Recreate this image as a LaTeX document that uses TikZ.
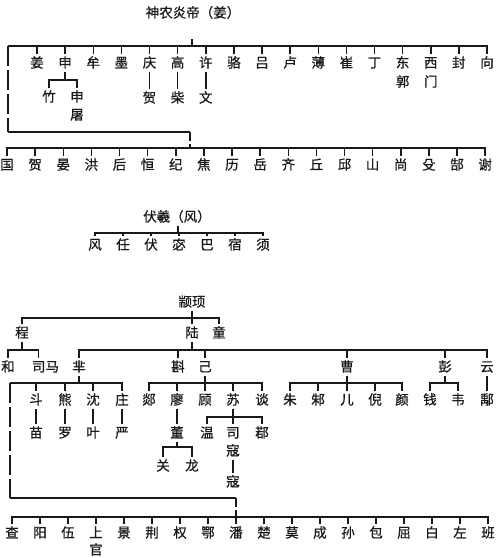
\documentclass[tikz,border=0pt]{standalone}
\usepackage{fontspec}
\newfontfamily\cjk[FakeBold=0.6]{Noto Sans CJK SC}
\begin{document}
\begin{tikzpicture}[x=1pt,y=-1pt,
  n/.style={font=\cjk\fontsize{13.5}{15}\selectfont, text=black!90, inner xsep=0.8pt, inner ysep=2.2pt, text height=10.8pt, text depth=1.6pt},
  ln/.style={line width=1.5pt, draw=black!90},
  dl/.style={ln, dash pattern=on 20pt off 4pt},
  ds/.style={ln, dash pattern=on 9pt off 3pt}]
\useasboundingbox[fill=white] (0,0) rectangle (500,558);

% ---------- Section 1: Shennong ----------
\node[n] (sn) at (193,13) {神农炎帝（姜）};
\coordinate (snb) at (192,39);
\coordinate (d1) at (8,46);
\foreach \t [count=\i] in {姜,申,牟,墨,庆,高,许,骆,吕,卢,薄,崔,丁,东,西,封,向}
  \node[n] (j\i) at ({37+28.125*(\i-1)},63) {\t};
\foreach \i in {1,...,16} \draw[ln] (j\i.north) -- (j\i.north |- d1);
\draw[ln] (d1) -- (j17.north |- d1) -- (j17.north);
\draw[ln] (snb) -- (snb |- d1);

\node[n] (zhu) at (49,97) {竹};
\node[n] (st1) at (77,97) {申};
\node[n] (st2) at (77,115) {屠};
\coordinate (shb) at (j2.south |- 0,80);
\draw[ln] (j2.south) -- (shb);
\draw[ln] (zhu.north) |- (st1.north |- shb) -- (st1.north);

\node[n] (he) at (j5 |- 0,98) {贺};
\node[n] (chai) at (j6 |- 0,98) {柴};
\node[n] (wenA) at (j7 |- 0,98) {文};
\draw[ln] (j5.south) -- (he.north);
\draw[ln] (j6.south) -- (chai.north);
\draw[ln] (j7.south) -- (wenA.north);
\node[n] (guo) at (j14 |- 0,82) {郭};
\node[n] (men) at (j15 |- 0,82) {门};

\coordinate (d2) at (8,132);
\coordinate (d3) at (190,132);
\coordinate (d4) at (190,148);
\draw[dl] (d1) -- (d2);
\draw[ln] (d2) -- (d3);
\draw[ds] (d3) -- (d4);

\foreach \t [count=\i] in {国,贺,晏,洪,后,恒,纪,焦,历,岳,齐,丘,邱,山,尚,殳,郜,谢}
  \node[n] (k\i) at ({7+28.125*(\i-1)},165) {\t};
\draw[ln] (k1.north) |- (k18.north |- d4) -- (k18.north);
\foreach \i in {2,...,17} \draw[ln] (k\i.north) -- (k\i.north |- d4);

% ---------- Section 2: Fuxi ----------
\node[n] (fx) at (177,217) {伏羲（风）};
\coordinate (fxb) at (178,233);
\foreach \t [count=\i] in {风,任,伏,宓,巴,宿,须}
  \node[n] (f\i) at ({95+28*(\i-1)},245) {\t};
\draw[ln] (f1.north) |- (f7.north |- fxb) -- (f7.north);
\foreach \i in {2,...,6} \draw[ln] (f\i.north) -- (f\i.north |- fxb);
\draw[ln] (fx.south -| fxb) -- (fxb);

% ---------- Section 3: Zhuanxu ----------
\node[n] (zx) at (192,302) {颛顼};
\node[n] (cheng) at (22,333) {程};
\node[n] (lu) at (192,333) {陆};
\node[n] (tong) at (219,333) {童};
\coordinate (zb) at (0,318);
\draw[ln] (zx.south) -- (lu.north);
\draw[ln] (cheng.north) |- (tong.north |- zb) -- (tong.north);

\coordinate (cb) at (0,350);
\node[n] (he2) at (8,367) {和};
\node[n] (sima) at (45.5,367) {司马};
\draw[ln] (cheng.south) -- (cheng.south |- cb);
\draw[ln] (he2.north) |- ([xshift=-7pt]sima.north |- cb) -- ([xshift=-7pt]sima.north);

\node[n] (mi) at (79,367) {芈};
\node[n] (zhen) at (178,367) {斟};
\node[n] (ji) at (205,367) {己};
\node[n] (cao) at (347,367) {曹};
\node[n] (peng) at (445,367) {彭};
\node[n] (yun) at (487,367) {云};
\draw[ln] (lu.south) -- (lu.south |- cb);
\draw[ln] (mi.north) |- (yun.north |- cb) -- (yun.north);
\foreach \m in {zhen,ji,cao,peng} \draw[ln] (\m.north) -- (\m.north |- cb);

% Mi branch
\coordinate (mb) at (0,383);
\coordinate (e1) at (10,383);
\node[n] (dou) at (36,400) {斗};
\node[n] (xiong) at (65,400) {熊};
\node[n] (shen) at (93,400) {沈};
\node[n] (zhuang) at (122,400) {庄};
\draw[ln] (mi.south) -- (mi.south |- mb);
\draw[ln] (e1) -- (zhuang.north |- mb) -- (zhuang.north);
\foreach \m in {dou,xiong,shen} \draw[ln] (\m.north) -- (\m.north |- mb);
\node[n] (miao) at (36,433) {苗};
\node[n] (luo) at (65,433) {罗};
\node[n] (ye) at (93,433) {叶};
\node[n] (yan2) at (122,433) {严};
\draw[ln] (dou.south) -- (miao.north);
\draw[ln] (xiong.south) -- (luo.north);
\draw[ln] (shen.south) -- (ye.north);
\draw[ln] (zhuang.south) -- (yan2.north);

% Ji branch
\node[n] (tanA) at (149,400) {郯};
\node[n] (liao) at (177,400) {廖};
\node[n] (gu) at (205,400) {顾};
\node[n] (su) at (233,400) {苏};
\node[n] (tan) at (262,400) {谈};
\draw[ln] (ji.south) -- (gu.north);
\draw[ln] (tanA.north) |- (tan.north |- mb) -- (tan.north);
\foreach \m in {liao,su} \draw[ln] (\m.north) -- (\m.north |- mb);

\node[n] (dong) at (177,433) {董};
\draw[ln] (liao.south) -- (dong.north);
\coordinate (db) at (0,447);
\node[n] (guan) at (163,466) {关};
\node[n] (long) at (192,466) {龙};
\draw[ln] (dong.south) -- (dong.south |- db);
\draw[ln] (guan.north) |- (long.north |- db) -- (long.north);

\coordinate (sb) at (0,417);
\node[n] (wen) at (207,433) {温};
\node[n] (si) at (233,433) {司};
\node[n] (kou) at (233,451) {寇};
\node[n] (ruo) at (262,433) {鄀};
\node[n] (kou2) at (233,482) {寇};
\draw[ln] (su.south) -- (si.north);
\draw[ln] (wen.north) |- (ruo.north |- sb) -- (ruo.north);
\draw[ln] (kou.south) -- (kou2.north);

% Cao branch
\node[n] (zhuB) at (290,400) {朱};
\node[n] (zhuC) at (318,400) {邾};
\node[n] (er) at (347,400) {儿};
\node[n] (ni) at (375,400) {倪};
\node[n] (yan) at (402,400) {颜};
\draw[ln] (cao.south) -- (er.north);
\draw[ln] (zhuB.north) |- (yan.north |- mb) -- (yan.north);
\foreach \m in {zhuC,ni} \draw[ln] (\m.north) -- (\m.north |- mb);

% Peng branch
\node[n] (qian) at (430,400) {钱};
\node[n] (wei) at (458,400) {韦};
\draw[ln] (peng.south) -- (peng.south |- mb);
\draw[ln] (qian.north) |- (wei.north |- mb) -- (wei.north);

% Yun branch
\node[n] (yu) at (487,400) {鄅};
\draw[ln] (yun.south) -- (yu.north);

% Bottom row
\coordinate (bb) at (0,517);
\foreach \t [count=\i] in {查,阳,伍,上,景,荆,权,鄂,潘,楚,莫,成,孙,包,屈,白,左,班}
  \node[n] (m\i) at ({12+28*(\i-1)},533) {\t};
\node[n] (guan2) at (m4 |- 0,550) {官};
\draw[ln] (m1.north) |- (m18.north |- bb) -- (m18.north);
\foreach \i in {2,...,17} \draw[ln] (m\i.north) -- (m\i.north |- bb);

\coordinate (e2) at (10,498);
\coordinate (e3) at (m9.north |- e2);
\draw[dl] (e1) -- (e2);
\draw[ln] (e2) -- (e3);
\draw[ds] (e3) -- (m9.north |- bb);
\end{tikzpicture}
\end{document}
